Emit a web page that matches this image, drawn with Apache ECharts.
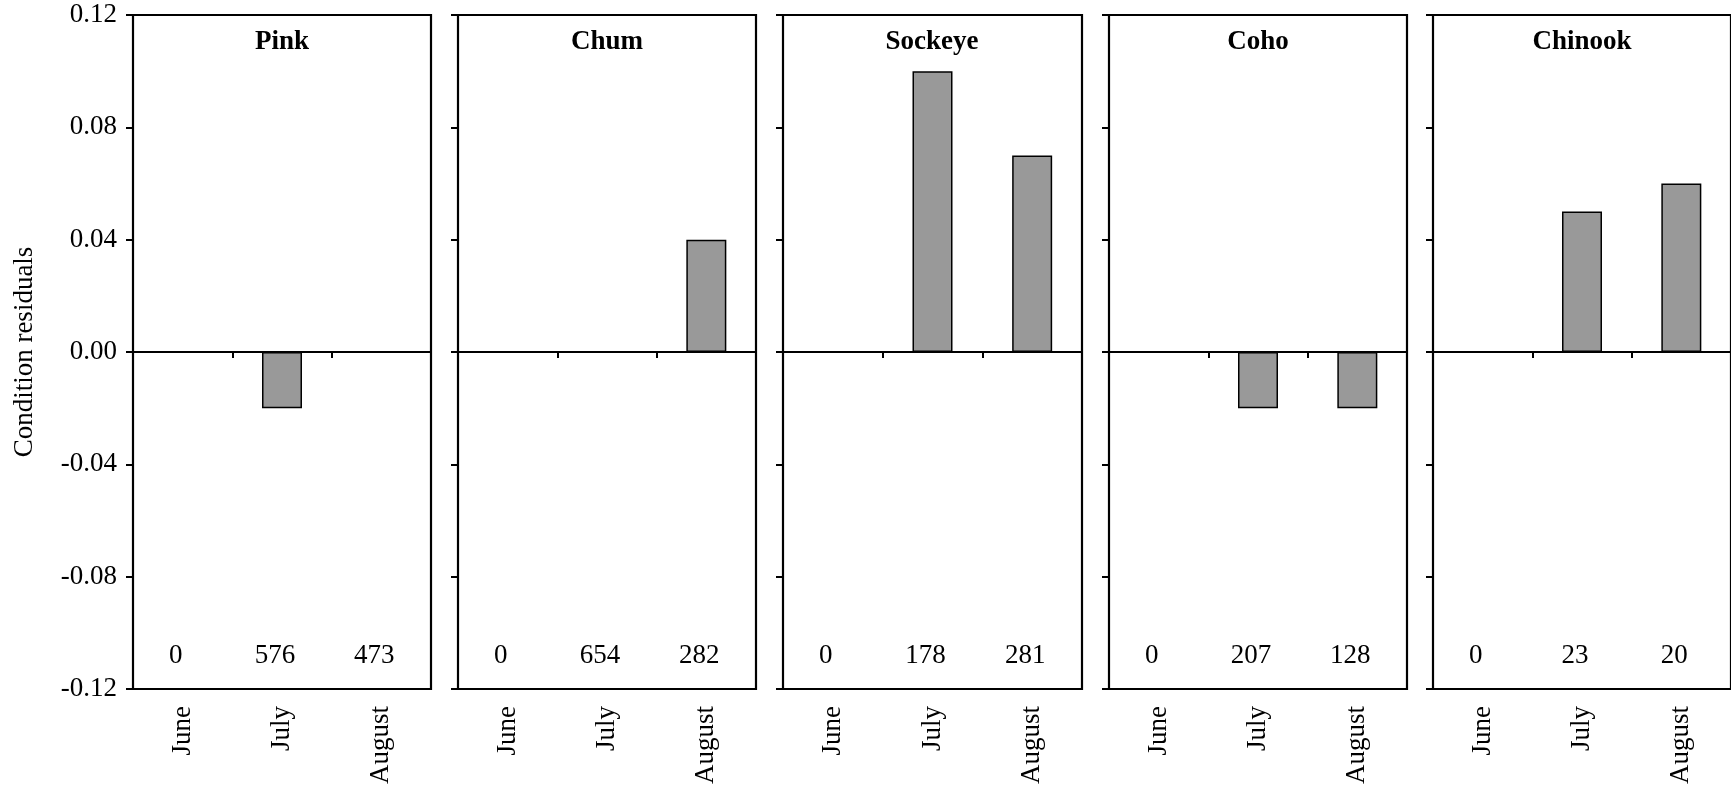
<!DOCTYPE html>
<html>
<head>
<meta charset="utf-8">
<script src="https://cdn.jsdelivr.net/npm/echarts@6/dist/echarts.min.js"></script>
<style>
html,body{margin:0;padding:0;background:#fff;}
#chart{width:1731px;height:787px;}
</style>
</head>
<body>
<div id="chart"></div>
<script>
// ---- data ----
const species = ['Pink', 'Chum', 'Sockeye', 'Coho', 'Chinook'];
const months = ['June', 'July', 'August'];
const pinkValues = [null, -0.02, 0];
const chumValues = [null, 0, 0.04];
const sockeyeValues = [null, 0.10, 0.07];
const cohoValues = [null, -0.02, -0.02];
const chinookValues = [null, 0.05, 0.06];
const pinkCounts = ['0', '576', '473'];
const chumCounts = ['0', '654', '282'];
const sockeyeCounts = ['0', '178', '281'];
const cohoCounts = ['0', '207', '128'];
const chinookCounts = ['0', '23', '20'];
const yTicks = { min: -0.12, max: 0.12, interval: 0.04 };
const yAxisTitle = 'Condition residuals';

const values = [pinkValues, chumValues, sockeyeValues, cohoValues, chinookValues];
const counts = [pinkCounts, chumCounts, sockeyeCounts, cohoCounts, chinookCounts];

// ---- layout ----
const gridLefts = [133, 458, 783, 1109, 1433];
const gridWidths = [298, 298, 299, 298, 303];
const gridTop = 15, gridHeight = 674;
const FONT = 'Liberation Serif, Times New Roman, serif';
const FS = 27;

const grids = [], xAxes = [], yAxes = [], series = [], titles = [];
species.forEach((sp, g) => {
  grids.push({
    left: gridLefts[g], top: gridTop, width: gridWidths[g], height: gridHeight,
    show: true, borderColor: '#000', borderWidth: 2.2, backgroundColor: 'transparent',
    containLabel: false
  });
  // month labels axis
  xAxes.push({
    gridIndex: g, type: 'category', data: months, position: 'bottom',
    axisLine: { show: false, onZero: false }, axisTick: { show: false },
    axisLabel: { rotate: 90, margin: 17, color: '#000', fontFamily: FONT, fontSize: FS },
    splitLine: { show: false }
  });
  // zero line axis
  xAxes.push({
    gridIndex: g, type: 'category', data: months, position: 'bottom',
    axisLine: { show: true, onZero: true, lineStyle: { color: '#000', width: 2 } },
    axisTick: { show: true, length: 6, lineStyle: { color: '#000', width: 2 } },
    axisLabel: { show: false }, splitLine: { show: false }
  });
  // count labels axis
  xAxes.push({
    gridIndex: g, type: 'category', data: counts[g], position: 'bottom',
    axisLine: { show: false, onZero: false }, axisTick: { show: false },
    axisLabel: { inside: true, margin: 20, padding: [0, 14, 0, 0], color: '#000', fontFamily: FONT, fontSize: FS },
    splitLine: { show: false }
  });
  yAxes.push({
    gridIndex: g, type: 'value', min: yTicks.min, max: yTicks.max, interval: yTicks.interval,
    axisLine: { show: false },
    axisTick: { show: true, length: 7, lineStyle: { color: '#000', width: 2 } },
    axisLabel: {
      show: g === 0, margin: 16, color: '#000', fontFamily: FONT, fontSize: FS,
      formatter: v => v.toFixed(2)
    },
    splitLine: { show: false },
    name: g === 0 ? yAxisTitle : '',
    nameLocation: 'middle', nameGap: 95,
    nameTextStyle: { color: '#000', fontFamily: FONT, fontSize: FS }
  });
  series.push({
    type: 'bar', xAxisIndex: g * 3 + 1, yAxisIndex: g, data: values[g],
    barWidth: 40,
    itemStyle: { color: '#999999', borderColor: '#000', borderWidth: 1.5 },
    silent: true
  });
  titles.push({
    text: sp, left: gridLefts[g] + 298 / 2, top: 29, textAlign: 'center', padding: 0,
    textStyle: { color: '#000', fontFamily: FONT, fontSize: FS, fontWeight: 'bold' }
  });
});

const chart = echarts.init(document.getElementById('chart'), null, { renderer: 'canvas' });
chart.setOption({
  animation: false,
  backgroundColor: '#fff',
  title: titles,
  grid: grids,
  xAxis: xAxes,
  yAxis: yAxes,
  series: series
});
</script>
</body>
</html>
